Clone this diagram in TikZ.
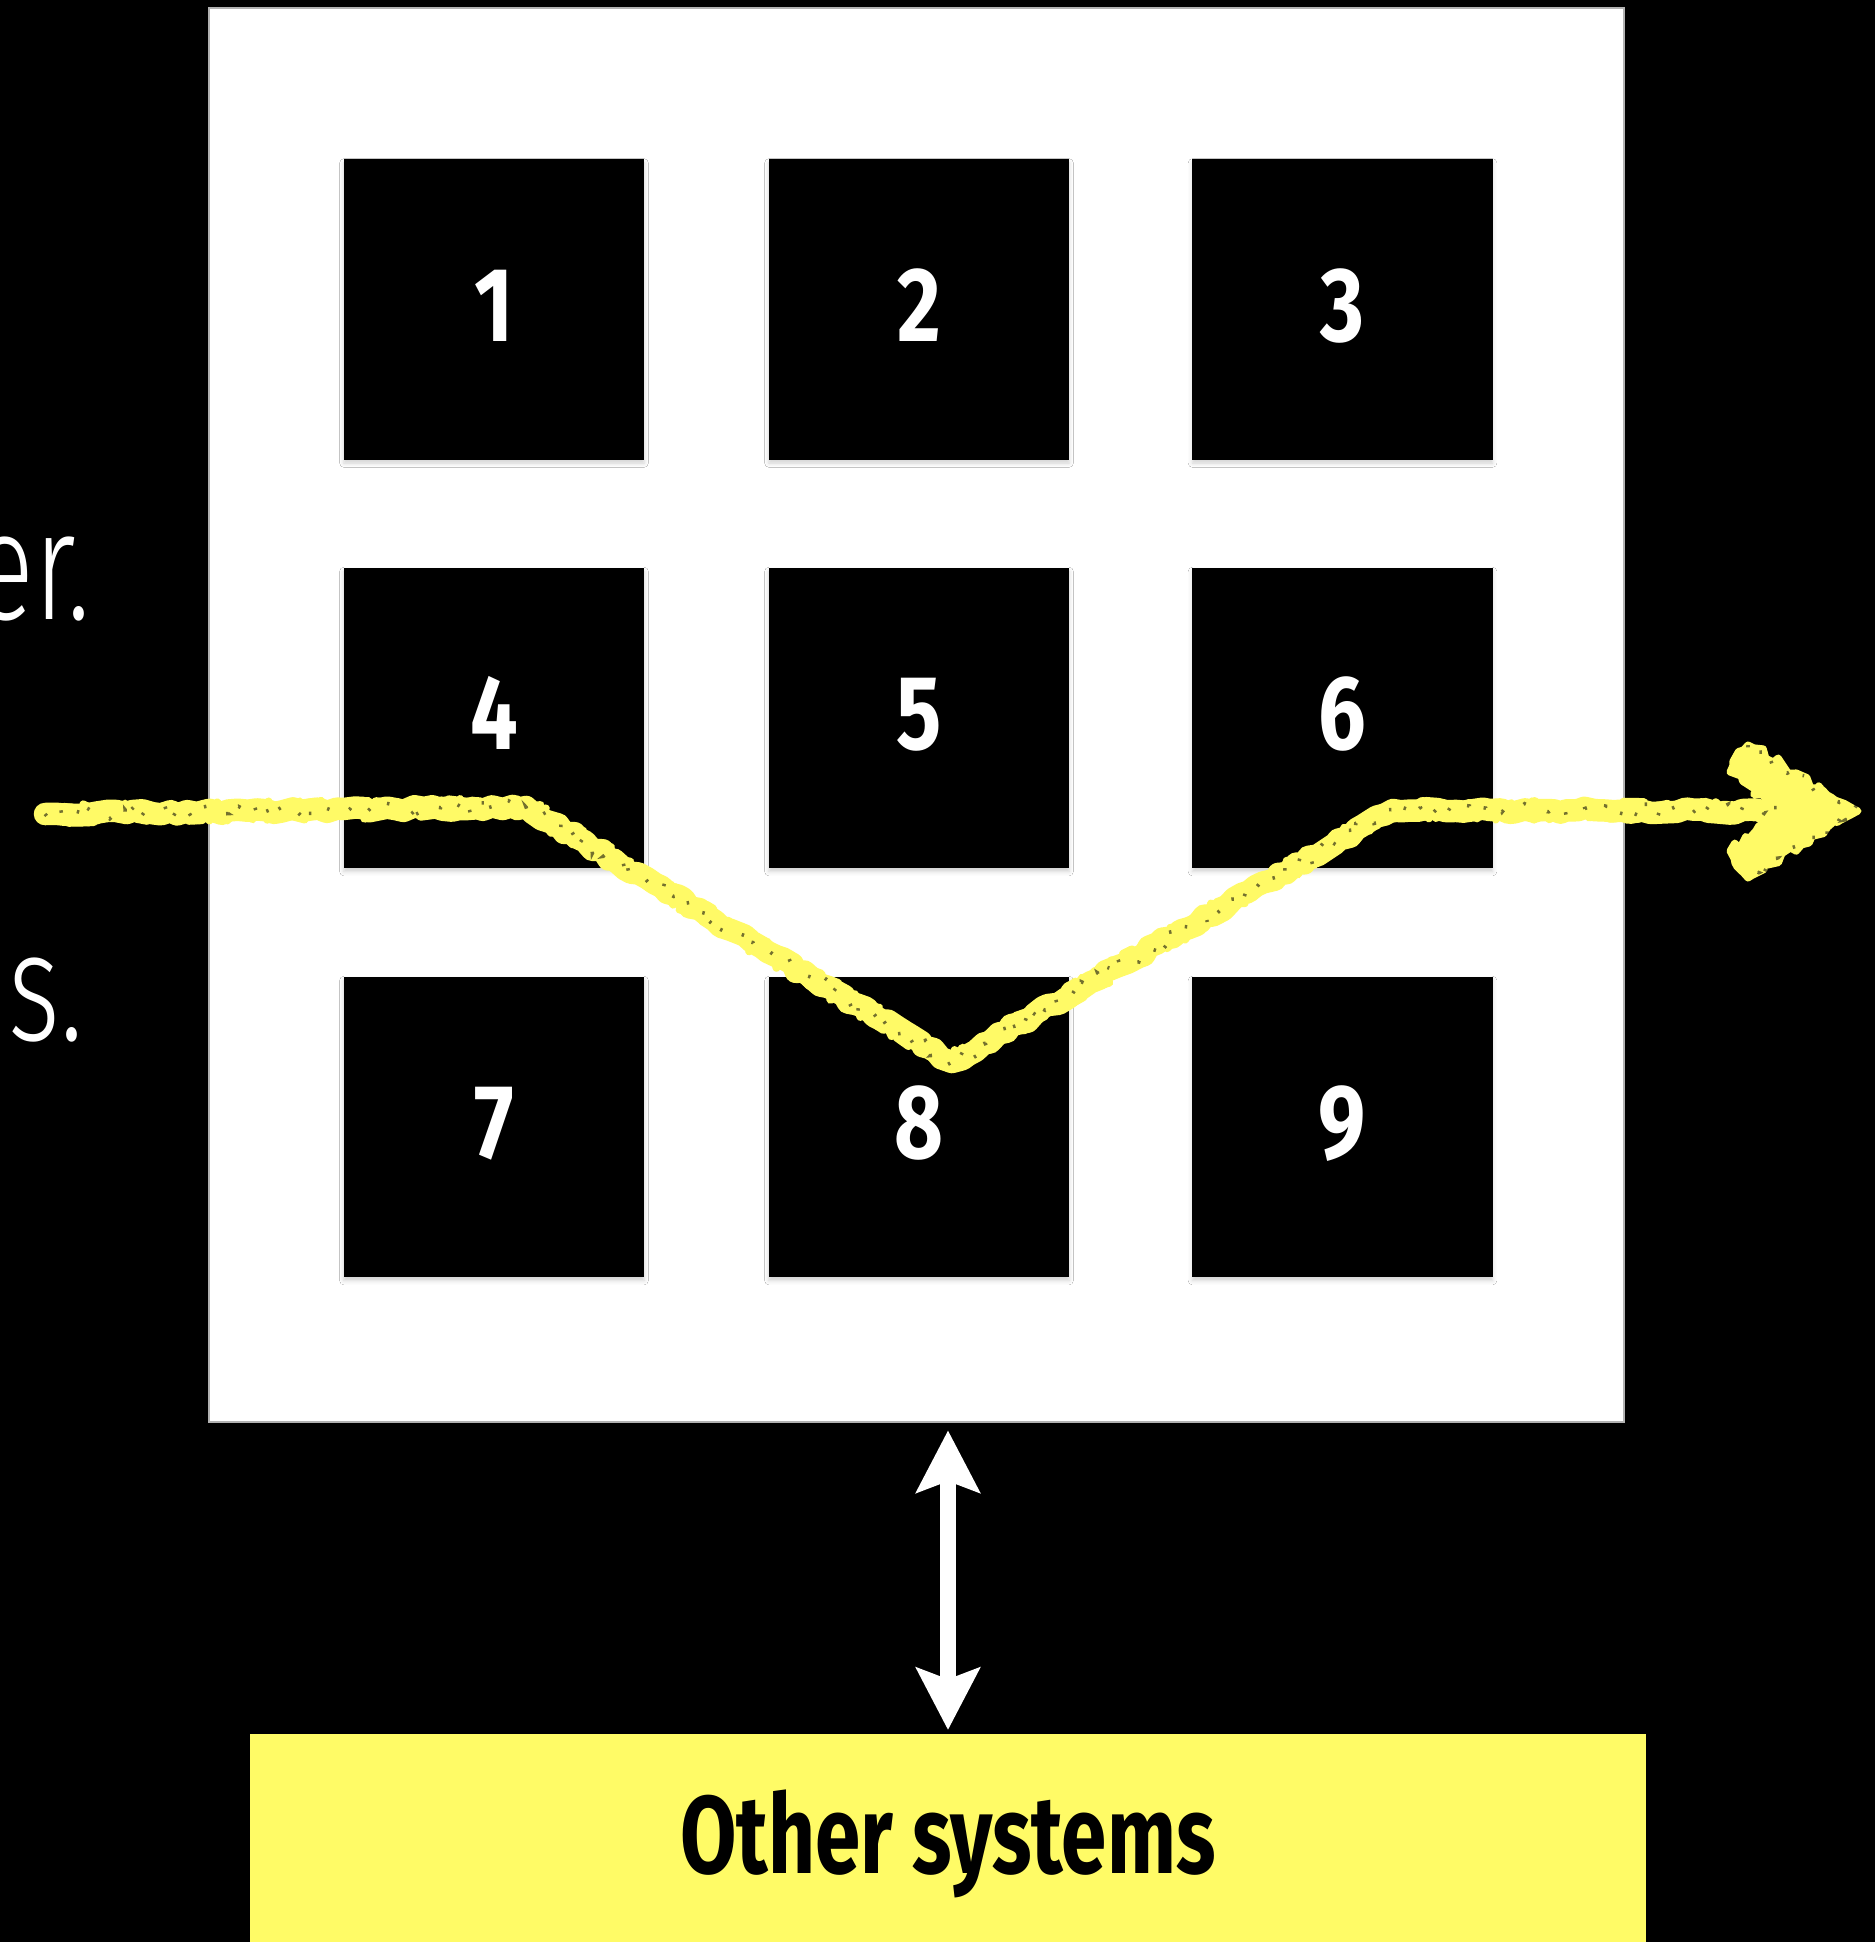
\documentclass[tikz,border=0pt]{standalone}
\usepackage{fontspec}
\setmainfont{Fira Sans}
\newfontfamily\numfont{Fira Sans}[FakeStretch=0.8]
\newfontfamily\labfont{Fira Sans}[FakeStretch=0.74]
\newfontfamily\lightfont{Fira Sans Light}[FakeStretch=0.72]
\usetikzlibrary{arrows.meta,decorations.pathmorphing,shadows.blur}
\definecolor{chalk}{RGB}{255,250,102}
\definecolor{sysyellow}{RGB}{255,251,102}
\begin{document}
\begin{tikzpicture}[x=0.01cm,y=-0.01cm,
  frame/.style={fill=white,draw=gray!60,line width=0.6pt,inner sep=0,outer sep=0,
    minimum width=14.15cm,minimum height=14.14cm},
  cell/.style={fill=black,minimum width=3cm,minimum height=3cm,inner sep=0,outer sep=0,
    text=white,font={\numfont\bfseries\fontsize{30}{36}\selectfont},
    text height=0.73cm,text depth=0.1cm,
    blur shadow={shadow xshift=0pt,shadow yshift=-1pt,shadow blur radius=1.2pt,shadow blur steps=4,shadow opacity=18}},
  sidetext/.style={anchor=base east,inner sep=0,text=white,font={\lightfont\fontsize{44}{50}\selectfont}},
  chalkline/.style={draw=chalk,line width=6.4pt,line join=round,line cap=round,
    decorate,decoration={random steps,segment length=2.5pt,amplitude=0.8pt}},
  chalkfuzz/.style={draw=chalk,line width=2.2pt,line join=round,line cap=round,
    decorate,decoration={random steps,segment length=1.3pt,amplitude=2.7pt}},
  chalkgrain/.style={draw=black,line width=1pt,opacity=0.55,dash pattern=on 0.7pt off 7pt,
    decorate,decoration={random steps,segment length=1.4pt,amplitude=2pt}},
  chalkhead/.style={fill=chalk,draw=chalk,line width=2pt,line join=round,
    decorate,decoration={random steps,segment length=2pt,amplitude=1.3pt}},
  dblarrow/.style={draw=white,line width=4.5pt,
    {Stealth[length=17.6pt,width=17.9pt,inset=3.2pt]}-{Stealth[length=17.6pt,width=17.9pt,inset=3.2pt]}},
  sysbox/.style={fill=sysyellow,inner sep=0,outer sep=0,minimum width=13.96cm,minimum height=2.16cm},
  syslabel/.style={anchor=base,inner sep=0,text=black,font={\labfont\bfseries\fontsize{31.4}{36}\selectfont}}
]
\pgfmathsetseed{11}
\fill[black] (0,0) rectangle (1875,1942);
\useasboundingbox (0,0) rectangle (1875,1942);

% side text fragments
\node[sidetext] (t1) at (91,619) {er.};
\node[sidetext] (t2) at (84,1040) {s.};

% system frame
\node[frame] (frame) at (916.5,715) {};

% cells
\node[cell] (n1) at (494,309.5) {1};
\node[cell] (n2) at (919,309.5) {2};
\node[cell] (n3) at (1342.5,309.5) {3};
\node[cell] (n4) at (494,718) {4};
\node[cell] (n5) at (919,718) {5};
\node[cell] (n6) at (1342.5,718) {6};
\node[cell] (n7) at (494,1127) {7};
\node[cell] (n8) at (919,1127) {8};
\node[cell] (n9) at (1342.5,1127) {9};

% other systems
\node[sysbox] (other) at (948,1842) {};
\node[syslabel] (otherlabel) at (948,1873) {Other systems};

% double arrow
\draw[dblarrow,shorten <=0.04cm,shorten >=0.08cm] (other.north) -- (other.north |- frame.south);

% chalk path
\coordinate (cstart) at (45,814);
\coordinate (c1) at (526,807);
\coordinate (c2) at (952,1062);
\coordinate (c3) at (1393,810);
\coordinate (cend) at (1780,811);
\coordinate (ctip) at (1858,811);
\coordinate (hua) at (1748,745);
\coordinate (hub) at (1730,772);
\coordinate (hn1) at (1766,801);
\coordinate (hn2) at (1766,821);
\coordinate (hlb) at (1730,851);
\coordinate (hla) at (1748,878);
\draw[chalkline] (cstart) -- (c1) -- (c2) -- (c3) -- (cend);
\draw[chalkfuzz] (cstart) -- (c1) -- (c2) -- (c3) -- (cend);
\draw[chalkfuzz] (cstart) -- (c1) -- (c2) -- (c3) -- (cend);
\draw[chalkhead] (ctip) -- (hua) -- (hub) -- (hn1) -- (hn2) -- (hlb) -- (hla) -- cycle;
\draw[chalkgrain] (cstart) -- (c1) -- (c2) -- (c3) -- (cend);
\draw[chalkgrain] (hua) -- (ctip) -- (hla);
\end{tikzpicture}
\end{document}
